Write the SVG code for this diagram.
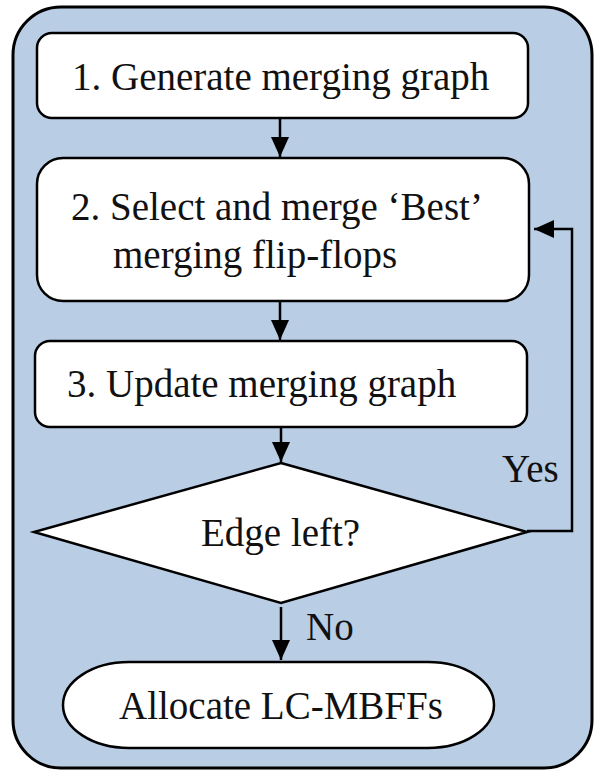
<svg xmlns="http://www.w3.org/2000/svg" width="594" height="770" viewBox="0 0 594 770">
  <style>
    .frame { fill: #b9cde4; stroke: #000; stroke-width: 3; }
    .node { fill: #fff; stroke: #000; stroke-width: 2.5; }
    .txt { font-family: "Liberation Serif", serif; font-size: 39px; fill: #111; }
    .edge { fill: none; stroke: #000; stroke-width: 2.5; }
  </style>
  <defs>
    <marker id="arrow" viewBox="0 0 20 20" refX="20" refY="10" markerWidth="20" markerHeight="20" markerUnits="userSpaceOnUse" orient="auto">
      <path d="M0,1 L20,10 L0,19 Z" fill="#000"/>
    </marker>
  </defs>

  <!-- background panel -->
  <rect class="frame" x="13" y="7" width="579" height="761" rx="48" ry="48"/>

  <g id="step1">
    <rect class="node" x="37" y="33" width="491" height="85" rx="15" ry="15"/>
    <text class="txt" x="72" y="90" style="font-family: 'Liberation Serif', serif">1. Generate merging graph</text>
  </g>

  <g id="step2">
    <rect class="node" x="37" y="158" width="492" height="143" rx="26" ry="26"/>
    <text class="txt" x="71" y="220" style="font-family: 'Liberation Serif', serif">2. Select and merge ‘Best’</text>
    <text class="txt" x="113" y="268" style="font-family: 'Liberation Serif', serif">merging flip-flops</text>
  </g>

  <g id="step3">
    <rect class="node" x="35" y="341" width="492" height="86" rx="15" ry="15"/>
    <text class="txt" x="67" y="397" style="font-family: 'Liberation Serif', serif">3. Update merging graph</text>
  </g>

  <g id="decision">
    <polygon class="node" points="281,463 527,532 281,603 34,532"/>
    <text class="txt" x="201" y="546" style="font-family: 'Liberation Serif', serif">Edge left?</text>
  </g>

  <g id="terminal">
    <rect class="node" x="63" y="662" width="431" height="86" rx="66" ry="43"/>
    <text class="txt" x="119" y="719" style="font-family: 'Liberation Serif', serif">Allocate LC-MBFFs</text>
  </g>

  <g id="connectors">
    <line class="edge" x1="280" y1="118" x2="280" y2="157" marker-end="url(#arrow)"/>
    <line class="edge" x1="280" y1="301" x2="280" y2="340" marker-end="url(#arrow)"/>
    <line class="edge" x1="281" y1="427" x2="281" y2="462" marker-end="url(#arrow)"/>
    <polyline class="edge" points="527,531 572,531 572,229 534,229" marker-end="url(#arrow)"/>
    <line class="edge" x1="281" y1="607" x2="281" y2="660" marker-end="url(#arrow)"/>
    <text class="txt" x="502" y="482" style="font-family: 'Liberation Serif', serif">Yes</text>
    <text class="txt" x="306" y="640" style="font-family: 'Liberation Serif', serif">No</text>
  </g>
</svg>
